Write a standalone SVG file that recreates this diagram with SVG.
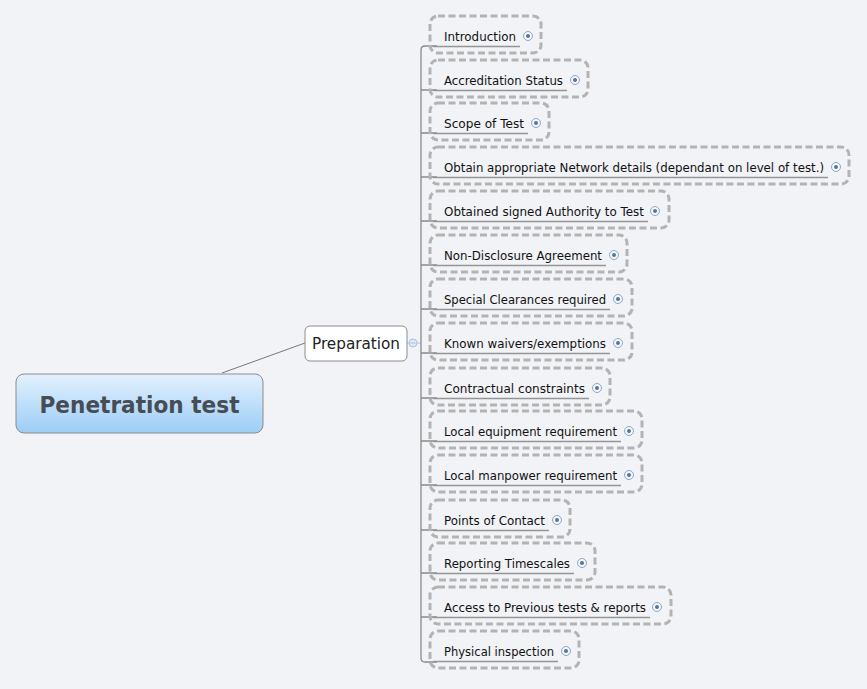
<svg xmlns="http://www.w3.org/2000/svg" width="867" height="689" viewBox="0 0 867 689">
<defs>
<linearGradient id="mainGrad" x1="0" y1="0" x2="0" y2="1">
<stop offset="0" stop-color="#e3f1fe"/>
<stop offset="1" stop-color="#9ccdf6"/>
</linearGradient>
<g id="plus">
<circle cx="0" cy="0" r="4.5" fill="#f4f7fb" stroke="#8ea6c2" stroke-width="1"/>
<circle cx="0" cy="0" r="2" fill="#56759a"/>
</g>
</defs>
<style>
.bg{fill:#f1f3f7}
.box{fill:none;stroke:#b3b3b3;stroke-width:3;stroke-dasharray:7 3.5}
.t{font-family:"DejaVu Sans",Verdana,sans-serif;font-size:12.5px;fill:#111}
.ul{stroke:#959595;stroke-width:1.6;fill:none}
.conn{stroke:#8a8a8a;stroke-width:1.3;fill:none}
</style>
<rect class="bg" x="0" y="0" width="867" height="689"/>
<g id="connectors">
<line x1="222" y1="373" x2="305" y2="343" stroke="#777" stroke-width="1"/>
<line x1="407" y1="343" x2="421" y2="343" stroke="#aac3e2" stroke-width="1"/>
<path class="conn" d="M437,46 H425 Q421,46 421,50 V658 Q421,662 425,662 H437"/>
<path class="conn" d="M421,90 H437 M421,133 H437 M421,177 H437 M421,221 H437 M421,265 H437 M421,309 H437 M421,353 H437 M421,398 H437 M421,441 H437 M421,485 H437 M421,530 H437 M421,573 H437 M421,617 H437"/>
<circle cx="413" cy="343" r="4" fill="#dce8f6" stroke="#a9c3e3" stroke-width="1"/>
<line x1="410.5" y1="343" x2="415.5" y2="343" stroke="#a9c3e3" stroke-width="1"/>
</g>
<g id="main">
<rect x="16" y="374" width="247" height="59" rx="8" fill="url(#mainGrad)" stroke="#8c8c8c" stroke-width="1"/>
<text x="139.5" y="413" text-anchor="middle" font-family="'DejaVu Sans',Verdana,sans-serif" font-size="23" font-weight="bold" fill="#474d55" textLength="200" lengthAdjust="spacingAndGlyphs">Penetration test</text>
</g>
<g id="preparation">
<rect x="305" y="326" width="102" height="35" rx="5" fill="#ffffff" stroke="#8c8c8c" stroke-width="1"/>
<text x="356" y="349" text-anchor="middle" font-family="'DejaVu Sans',Verdana,sans-serif" font-size="16" fill="#222" textLength="88" lengthAdjust="spacingAndGlyphs">Preparation</text>
</g>
<g id="n1"><rect class="box" x="430" y="16" width="111" height="37" rx="8"/><text class="t" x="444" y="41" textLength="72" lengthAdjust="spacingAndGlyphs">Introduction</text><line class="ul" x1="433" y1="46.5" x2="520" y2="46.5"/><use href="#plus" x="528" y="36"/></g>
<g id="n2"><rect class="box" x="430" y="60" width="158" height="37" rx="8"/><text class="t" x="444" y="85" textLength="119" lengthAdjust="spacingAndGlyphs">Accreditation Status</text><line class="ul" x1="433" y1="90.5" x2="567" y2="90.5"/><use href="#plus" x="575" y="80"/></g>
<g id="n3"><rect class="box" x="430" y="103" width="119" height="37" rx="8"/><text class="t" x="444" y="128" textLength="80" lengthAdjust="spacingAndGlyphs">Scope of Test</text><line class="ul" x1="433" y1="133.5" x2="528" y2="133.5"/><use href="#plus" x="536" y="123"/></g>
<g id="n4"><rect class="box" x="430" y="147" width="419" height="37" rx="8"/><text class="t" x="444" y="172" textLength="380" lengthAdjust="spacingAndGlyphs">Obtain appropriate Network details (dependant on level of test.)</text><line class="ul" x1="433" y1="177.5" x2="828" y2="177.5"/><use href="#plus" x="836" y="167"/></g>
<g id="n5"><rect class="box" x="430" y="191" width="239" height="37" rx="8"/><text class="t" x="444" y="216" textLength="200" lengthAdjust="spacingAndGlyphs">Obtained signed Authority to Test</text><line class="ul" x1="433" y1="221.5" x2="648" y2="221.5"/><use href="#plus" x="655" y="211"/></g>
<g id="n6"><rect class="box" x="430" y="235" width="197" height="37" rx="8"/><text class="t" x="444" y="260" textLength="158" lengthAdjust="spacingAndGlyphs">Non-Disclosure Agreement</text><line class="ul" x1="433" y1="265.5" x2="606" y2="265.5"/><use href="#plus" x="614" y="255"/></g>
<g id="n7"><rect class="box" x="430" y="279" width="202" height="37" rx="8"/><text class="t" x="444" y="304" textLength="162" lengthAdjust="spacingAndGlyphs">Special Clearances required</text><line class="ul" x1="433" y1="309.5" x2="610" y2="309.5"/><use href="#plus" x="618" y="299"/></g>
<g id="n8"><rect class="box" x="430" y="323" width="202" height="37" rx="8"/><text class="t" x="444" y="348" textLength="162" lengthAdjust="spacingAndGlyphs">Known waivers/exemptions</text><line class="ul" x1="433" y1="353.5" x2="610" y2="353.5"/><use href="#plus" x="618" y="343"/></g>
<g id="n9"><rect class="box" x="430" y="368" width="180" height="37" rx="8"/><text class="t" x="444" y="393" textLength="141" lengthAdjust="spacingAndGlyphs">Contractual constraints</text><line class="ul" x1="433" y1="398.5" x2="589" y2="398.5"/><use href="#plus" x="597" y="388"/></g>
<g id="n10"><rect class="box" x="430" y="411" width="212" height="37" rx="8"/><text class="t" x="444" y="436" textLength="173" lengthAdjust="spacingAndGlyphs">Local equipment requirement</text><line class="ul" x1="433" y1="441.5" x2="621" y2="441.5"/><use href="#plus" x="629" y="431"/></g>
<g id="n11"><rect class="box" x="430" y="455" width="212" height="37" rx="8"/><text class="t" x="444" y="480" textLength="173" lengthAdjust="spacingAndGlyphs">Local manpower requirement</text><line class="ul" x1="433" y1="485.5" x2="621" y2="485.5"/><use href="#plus" x="629" y="475"/></g>
<g id="n12"><rect class="box" x="430" y="500" width="140" height="37" rx="8"/><text class="t" x="444" y="525" textLength="101" lengthAdjust="spacingAndGlyphs">Points of Contact</text><line class="ul" x1="433" y1="530.5" x2="549" y2="530.5"/><use href="#plus" x="557" y="520"/></g>
<g id="n13"><rect class="box" x="430" y="543" width="165" height="37" rx="8"/><text class="t" x="444" y="568" textLength="126" lengthAdjust="spacingAndGlyphs">Reporting Timescales</text><line class="ul" x1="433" y1="573.5" x2="574" y2="573.5"/><use href="#plus" x="582" y="563"/></g>
<g id="n14"><rect class="box" x="430" y="587" width="241" height="37" rx="8"/><text class="t" x="444" y="612" textLength="202" lengthAdjust="spacingAndGlyphs">Access to Previous tests &amp; reports</text><line class="ul" x1="433" y1="617.5" x2="650" y2="617.5"/><use href="#plus" x="657" y="607"/></g>
<g id="n15"><rect class="box" x="430" y="631" width="149" height="37" rx="8"/><text class="t" x="444" y="656" textLength="110" lengthAdjust="spacingAndGlyphs">Physical inspection</text><line class="ul" x1="433" y1="661.5" x2="558" y2="661.5"/><use href="#plus" x="566" y="651"/></g>
</svg>
